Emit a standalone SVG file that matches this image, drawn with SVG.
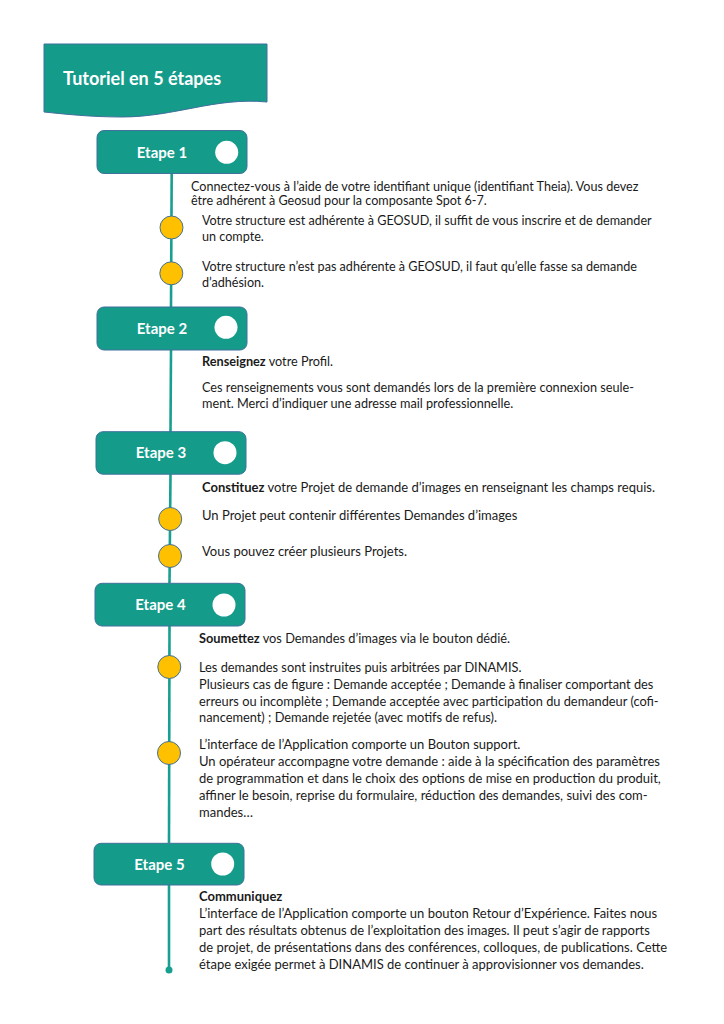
<svg xmlns="http://www.w3.org/2000/svg" width="724" height="1024" viewBox="0 0 724 1024">
<style>
.box{fill:#149B8A;stroke:#41719C;stroke-width:1}
.knob{fill:#ffffff}
.lbl{font-family:Lato,"Open Sans",sans-serif;font-weight:bold;font-size:15px;fill:#ffffff;text-anchor:middle}
.bul{fill:#FFC000;stroke:#41719C;stroke-width:1}
.line{stroke:#17A08F;stroke-width:2.6;fill:none}
.t{font-family:Lato,"Open Sans",sans-serif;font-size:12.6px;fill:#1a1a1a}
.s2{font-size:12.7px}
.s3{font-size:13px}
.s4{font-size:12.8px}
.s5{font-size:13px}
.b{font-weight:bold}
</style>
<rect width="724" height="1024" fill="#ffffff"/>
<g id="header">
<path d="M44,44 H267 V102 C 215,97 175,117 122,117 C 90,117 64,114 44,112 Z" fill="#149B8A" stroke="#41719C" stroke-width="1"/>
<text x="63" y="85" font-family="Lato,'Open Sans',sans-serif" font-weight="bold" font-size="18" fill="#ffffff">Tutoriel en 5 étapes</text>
</g>
<g id="connectors">
<path class="line" d="M171.7,173 L171,307"/>
<path class="line" d="M171,350 L170.5,432"/>
<path class="line" d="M170.5,474 L169.5,583"/>
<path class="line" d="M169.5,626 L169,843"/>
<path class="line" d="M169,885 L169,970"/>
<circle cx="169" cy="970" r="3.5" fill="#17A08F"/>
</g>
<g id="etape1">
<rect class="box" x="97" y="130.5" width="150" height="43" rx="7"/>
<text class="lbl" x="162" y="157.5">Etape 1</text>
<circle class="knob" cx="226.7" cy="152.3" r="11.5"/>
</g>
<g id="etape1-text">
<text class="t" x="191" y="191">Connectez-vous à l’aide de votre identifiant unique (identifiant Theia). Vous devez</text>
<text class="t" x="191" y="205">être adhérent à Geosud pour la composante Spot 6-7.</text>
</g>
<g id="etape1-b1">
<circle class="bul" cx="171.5" cy="227.5" r="11.5"/>
<text class="t" x="202" y="225">Votre structure est adhérente à GEOSUD, il suffit de vous inscrire et de demander</text>
<text class="t" x="202" y="241">un compte.</text>
</g>
<g id="etape1-b2">
<circle class="bul" cx="171.3" cy="273.3" r="11.5"/>
<text class="t" x="202" y="271">Votre structure n’est pas adhérente à GEOSUD, il faut qu’elle fasse sa demande</text>
<text class="t" x="202" y="287">d’adhésion.</text>
</g>
<g id="etape2">
<rect class="box" x="97" y="307" width="150" height="43" rx="7"/>
<text class="lbl" x="162" y="333.5">Etape 2</text>
<circle class="knob" cx="226" cy="327.3" r="11.5"/>
</g>
<g id="etape2-text">
<text class="t s2" x="202" y="366"><tspan class="b">Renseignez</tspan> votre Profil.</text>
<text class="t s2" x="202" y="392">Ces renseignements vous sont demandés lors de la première connexion seule-</text>
<text class="t s2" x="202" y="408">ment. Merci d’indiquer une adresse mail professionnelle.</text>
</g>
<g id="etape3">
<rect class="box" x="96" y="431.7" width="150" height="42.5" rx="7"/>
<text class="lbl" x="161" y="458">Etape 3</text>
<circle class="knob" cx="225" cy="452.7" r="11.5"/>
</g>
<g id="etape3-text">
<text class="t s3" x="202" y="492"><tspan class="b">Constituez</tspan> votre Projet de demande d’images en renseignant les champs requis.</text>
</g>
<g id="etape3-b1">
<circle class="bul" cx="170.2" cy="519" r="11.5"/>
<text class="t s3" x="202" y="520">Un Projet peut contenir différentes Demandes d’images</text>
</g>
<g id="etape3-b2">
<circle class="bul" cx="170" cy="556" r="11.5"/>
<text class="t s3" x="202" y="556">Vous pouvez créer plusieurs Projets.</text>
</g>
<g id="etape4">
<rect class="box" x="95" y="583.3" width="150" height="42.7" rx="7"/>
<text class="lbl" x="160.5" y="610">Etape 4</text>
<circle class="knob" cx="224" cy="605" r="11.5"/>
</g>
<g id="etape4-text">
<text class="t s4" x="199" y="643"><tspan class="b">Soumettez</tspan> vos Demandes d’images via le bouton dédié.</text>
</g>
<g id="etape4-b1">
<circle class="bul" cx="169.3" cy="667" r="11.5"/>
<text class="t s4" x="199" y="672">Les demandes sont instruites puis arbitrées par DINAMIS.</text>
<text class="t s4" x="199" y="689">Plusieurs cas de figure : Demande acceptée ; Demande à finaliser comportant des</text>
<text class="t s4" x="199" y="706">erreurs ou incomplète ; Demande acceptée avec participation du demandeur (cofi-</text>
<text class="t s4" x="199" y="722">nancement) ; Demande rejetée (avec motifs de refus).</text>
</g>
<g id="etape4-b2">
<circle class="bul" cx="169" cy="753" r="11.5"/>
<text class="t s5" x="199" y="749">L’interface de l’Application comporte un Bouton support.</text>
<text class="t s5" x="199" y="766">Un opérateur accompagne votre demande : aide à la spécification des paramètres</text>
<text class="t s5" x="199" y="783">de programmation et dans le choix des options de mise en production du produit,</text>
<text class="t s5" x="199" y="800">affiner le besoin, reprise du formulaire, réduction des demandes, suivi des com-</text>
<text class="t s5" x="199" y="817">mandes…</text>
</g>
<g id="etape5">
<rect class="box" x="94" y="843.3" width="150" height="41.7" rx="7"/>
<text class="lbl" x="159.5" y="869.5">Etape 5</text>
<circle class="knob" cx="222.7" cy="864" r="11.5"/>
</g>
<g id="etape5-text">
<text class="t s5 b" x="199" y="901">Communiquez</text>
<text class="t s5" x="199" y="918">L’interface de l’Application comporte un bouton Retour d’Expérience. Faites nous</text>
<text class="t s5" x="199" y="935">part des résultats obtenus de l’exploitation des images. Il peut s’agir de rapports</text>
<text class="t s5" x="199" y="952">de projet, de présentations dans des conférences, colloques, de publications. Cette</text>
<text class="t s5" x="199" y="969">étape exigée permet à DINAMIS de continuer à approvisionner vos demandes.</text>
</g>
</svg>
